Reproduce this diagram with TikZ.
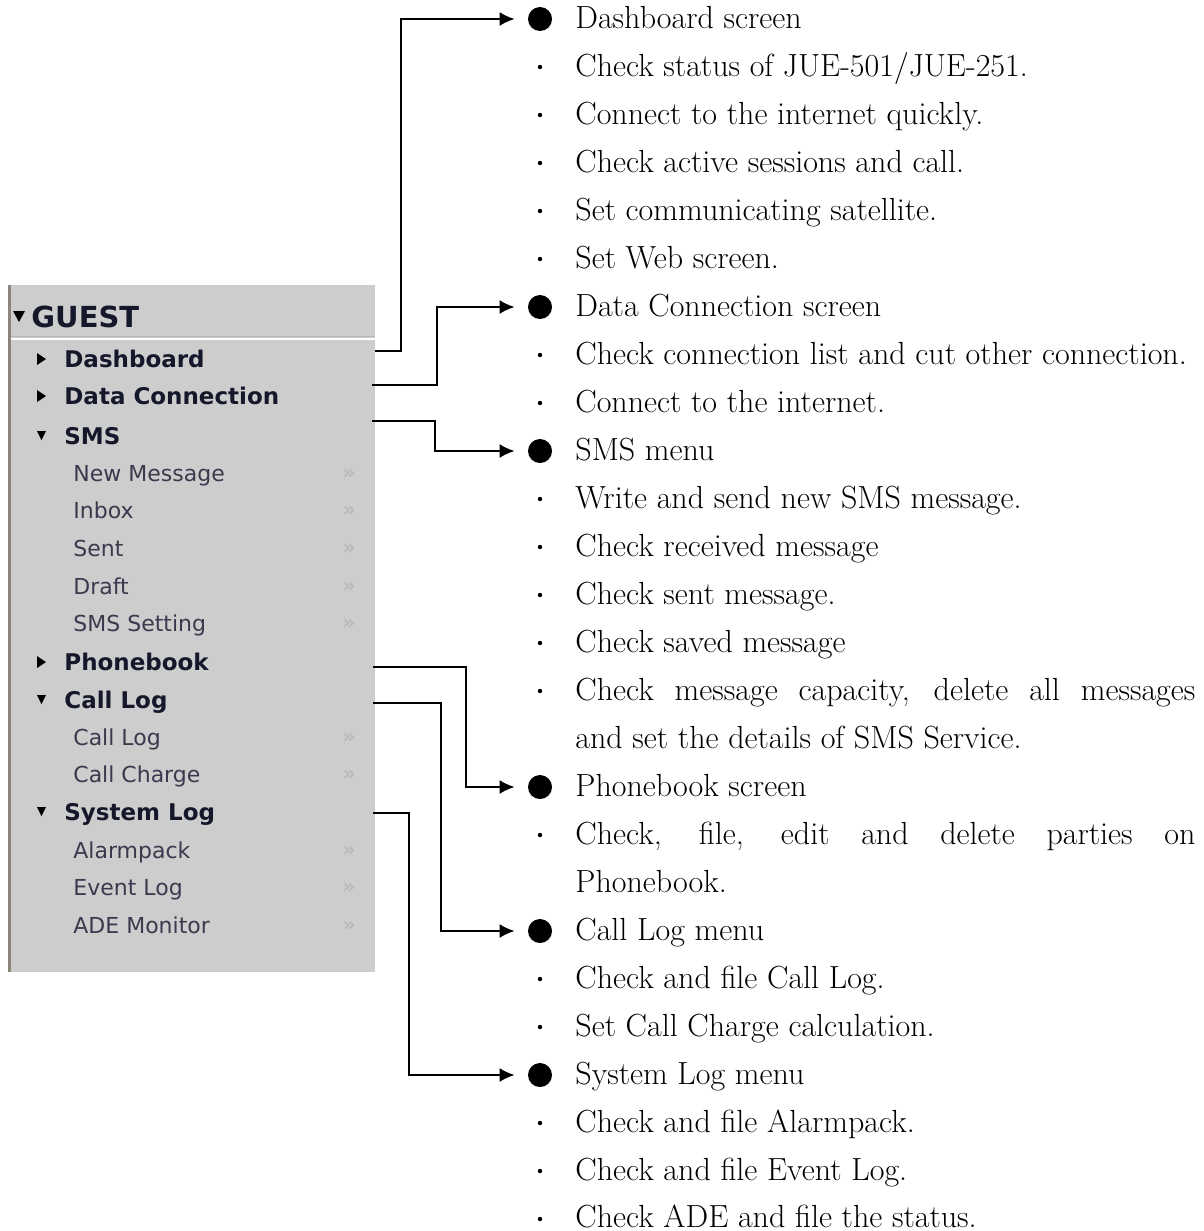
\documentclass[tikz,border=0pt]{standalone}
\usepackage{fontspec}
\usepackage{xcolor}
\usepackage{tikz}
\usetikzlibrary{arrows.meta}
\newfontfamily\menufont{DejaVu Sans}
\definecolor{panelgray}{HTML}{CDCDCD}
\definecolor{panelborder}{HTML}{8C867A}
\definecolor{menuink}{HTML}{15182A}
\definecolor{subink}{HTML}{3A3A4E}

\begin{document}
\begin{tikzpicture}[x=0.5pt,y=-0.5pt,
  menuhead/.style={anchor=base west,inner sep=0pt,font=\menufont\bfseries\fontsize{11.5}{12}\selectfont,text=menuink},
  menusub/.style={anchor=base west,inner sep=0pt,font=\menufont\fontsize{11}{12}\selectfont,text=subink},
  subicon/.style={anchor=center,inner sep=0pt,font=\menufont\bfseries\fontsize{10}{11}\selectfont,text=gray!55},
  desc/.style={anchor=base west,inner sep=0pt,font=\fontsize{16}{18}\selectfont},
  bigdot/.style={circle,fill=black,inner sep=0pt,minimum size=12pt},
  smalldot/.style={circle,fill=black,inner sep=0pt,minimum size=2.2pt},
  tri/.style={fill=black},
  link/.style={line width=1pt,-{Latex[length=7.5pt,width=7pt]}}]
\useasboundingbox (0,0) rectangle (1204,1231);

% menu panel
\fill[panelgray] (8,285) rectangle (375,972);
\fill[panelborder] (8,285) rectangle (11,972);
\draw[line width=0.5pt,color=panelborder!60] (11,336) -- (375,336);
\draw[line width=1pt,white] (11,338.5) -- (375,338.5);

% triangles
\fill[tri] (13,311) -- (25,311) -- (19,322) -- cycle;
\fill[tri] (37,353) -- (46,359) -- (37,365) -- cycle;
\fill[tri] (37,390) -- (46,396) -- (37,402) -- cycle;
\fill[tri] (37,431) -- (46,431) -- (41.5,440) -- cycle;
\fill[tri] (37,656) -- (46,662) -- (37,668) -- cycle;
\fill[tri] (37,695) -- (46,695) -- (41.5,704) -- cycle;
\fill[tri] (37,807) -- (46,807) -- (41.5,816) -- cycle;

% menu entries
\node[menuhead,font=\menufont\bfseries\fontsize{14.5}{15}\selectfont] (guest) at (31,327) {GUEST};
\node[menuhead] (dash) at (64,367) {Dashboard};
\node[menuhead] (data) at (64,404) {Data Connection};
\node[menuhead] (sms) at (64,444) {SMS};
\node[menusub] (newmsg) at (73,481) {New Message};
\node[menusub] (inbox) at (73,518) {Inbox};
\node[menusub] (sent) at (73,556) {Sent};
\node[menusub] (draft) at (73,594) {Draft};
\node[menusub] (smsset) at (73,631) {SMS Setting};
\node[menuhead] (phone) at (64,670) {Phonebook};
\node[menuhead] (calllog) at (64,708) {Call Log};
\node[menusub] (calllogsub) at (73,745) {Call Log};
\node[menusub] (callcharge) at (73,782) {Call Charge};
\node[menuhead] (syslog) at (64,820) {System Log};
\node[menusub] (alarm) at (73,858) {Alarmpack};
\node[menusub] (event) at (73,895) {Event Log};
\node[menusub] (ade) at (73,933) {ADE Monitor};

% small icons
\node[subicon] at (349,474) {»};
\node[subicon] at (349,511) {»};
\node[subicon] at (349,549) {»};
\node[subicon] at (349,587) {»};
\node[subicon] at (349,624) {»};
\node[subicon] at (349,738) {»};
\node[subicon] at (349,775) {»};
\node[subicon] at (349,851) {»};
\node[subicon] at (349,888) {»};
\node[subicon] at (349,926) {»};

% description list
\node[bigdot] (bDash) at (540,19) {};
\node[desc] (tDash) at (575,28) {Dashboard screen};
\node[smalldot] at (540,67) {};
\node[desc] at (575,76) {Check status of JUE-501/JUE-251.};
\node[smalldot] at (540,115) {};
\node[desc] at (575,124) {Connect to the internet quickly.};
\node[smalldot] at (540,163) {};
\node[desc] at (575,172) {Check active sessions and call.};
\node[smalldot] at (540,211) {};
\node[desc] at (575,220) {Set communicating satellite.};
\node[smalldot] at (540,259) {};
\node[desc] at (575,268) {Set Web screen.};

\node[bigdot] (bData) at (540,307) {};
\node[desc] (tData) at (575,316) {Data Connection screen};
\node[smalldot] at (540,355) {};
\node[desc] at (575,364) {Check connection list and cut other connection.};
\node[smalldot] at (540,403) {};
\node[desc] at (575,412) {Connect to the internet.};

\node[bigdot] (bSms) at (540,451) {};
\node[desc] (tSms) at (575,460) {SMS menu};
\node[smalldot] at (540,499) {};
\node[desc] at (575,508) {Write and send new SMS message.};
\node[smalldot] at (540,547) {};
\node[desc] at (575,556) {Check received message};
\node[smalldot] at (540,595) {};
\node[desc] at (575,604) {Check sent message.};
\node[smalldot] at (540,643) {};
\node[desc] at (575,652) {Check saved message};
\node[smalldot] at (540,691) {};
\node[desc] at (575,700) {\makebox[310pt][s]{Check message capacity, delete all messages}};
\node[desc] at (575,748) {and set the details of SMS Service.};

\node[bigdot] (bPhone) at (540,787) {};
\node[desc] (tPhone) at (575,796) {Phonebook screen};
\node[smalldot] at (540,835) {};
\node[desc] at (575,844) {\makebox[310pt][s]{Check, file, edit and delete parties on}};
\node[desc] at (575,892) {Phonebook.};

\node[bigdot] (bCall) at (540,931) {};
\node[desc] (tCall) at (575,940) {Call Log menu};
\node[smalldot] at (540,979) {};
\node[desc] at (575,988) {Check and file Call Log.};
\node[smalldot] at (540,1027) {};
\node[desc] at (575,1036) {Set Call Charge calculation.};

\node[bigdot] (bSys) at (540,1075) {};
\node[desc] (tSys) at (575,1084) {System Log menu};
\node[smalldot] at (540,1123) {};
\node[desc] at (575,1132) {Check and file Alarmpack.};
\node[smalldot] at (540,1171) {};
\node[desc] at (575,1180) {Check and file Event Log.};
\node[smalldot] at (540,1219) {};
\node[desc] at (575,1227) {Check ADE and file the status.};

% connectors
\coordinate (sDash) at (375,351);
\coordinate (sData) at (372,385);
\coordinate (sSms) at (372,421);
\coordinate (sPhone) at (373,667);
\coordinate (sCall) at (373,703);
\coordinate (sSys) at (373,813);
\draw[link,shorten >=6.5pt] (sDash) -| (401,19) -- (bDash);
\draw[link,shorten >=6.5pt] (sData) -| (437,307) -- (bData);
\draw[link,shorten >=6.5pt] (sSms) -| (435,451) -- (bSms);
\draw[link,shorten >=6.5pt] (sPhone) -| (466,787) -- (bPhone);
\draw[link,shorten >=6.5pt] (sCall) -| (441,931) -- (bCall);
\draw[link,shorten >=6.5pt] (sSys) -| (409,1075) -- (bSys);
\end{tikzpicture}
\end{document}
